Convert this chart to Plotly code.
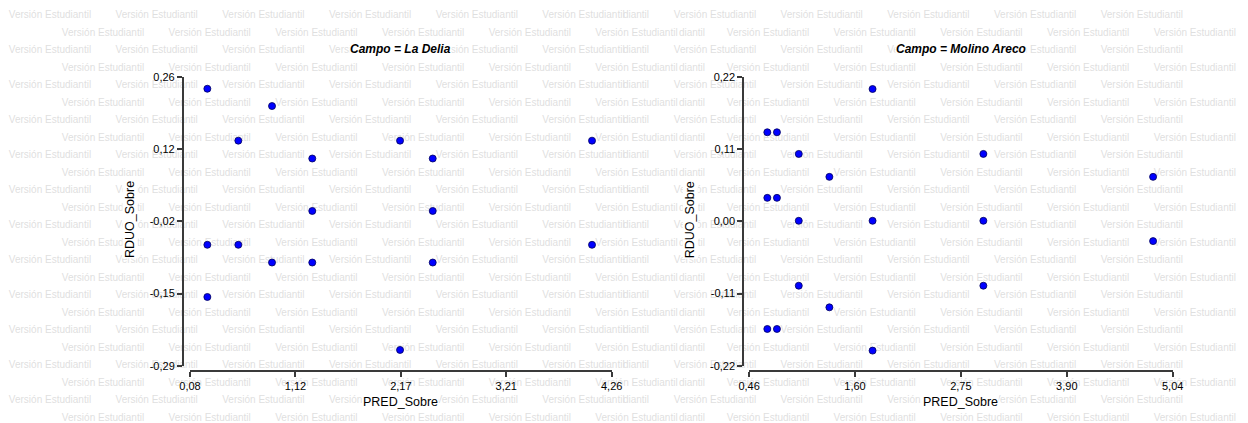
import plotly.graph_objects as go

W, H = 1248, 423
OFF = 8  # page body offset of the figure inside the browser window

# ---------------- data ----------------
ld_pred = [0.252, 0.893, 0.559, 2.162, 4.065, 1.292, 2.486, 1.292, 2.486,
           0.252, 0.559, 4.065, 0.893, 1.292, 2.486, 0.252, 2.162]
ld_rduo = [0.238, 0.205, 0.139, 0.139, 0.139, 0.105, 0.105, 0.005, 0.005,
           -0.0595, -0.0595, -0.0595, -0.0933, -0.0933, -0.0933, -0.159, -0.26]

ma_pred = [1.795, 0.657, 0.761, 0.997, 2.993, 1.328, 4.828, 0.657, 0.761,
           0.997, 1.795, 2.993, 4.828, 0.997, 2.993, 1.328, 0.657, 0.761, 1.795]
ma_rduo = [0.202, 0.136, 0.136, 0.103, 0.103, 0.068, 0.068, 0.036, 0.036,
           0.001, 0.001, 0.001, -0.030, -0.098, -0.098, -0.131, -0.164, -0.164, -0.197]

ld_xticks = [0.08, 1.125, 2.17, 3.215, 4.26]
ld_xlabels = ["0,08", "1,12", "2,17", "3,21", "4,26"]
ld_yticks = [-0.29, -0.1525, -0.015, 0.1225, 0.26]
ld_ylabels = ["-0,29", "-0,15", "-0,02", "0,12", "0,26"]

ma_xticks = [0.46, 1.605, 2.75, 3.895, 5.04]
ma_xlabels = ["0,46", "1,60", "2,75", "3,90", "5,04"]
ma_yticks = [-0.22, -0.11, 0.0, 0.11, 0.22]
ma_ylabels = ["-0,22", "-0,11", "0,00", "0,11", "0,22"]

titles = ["Campo = La Delia", "Campo = Molino Areco"]
x_title = "PRED_Sobre"
y_title = "RDUO_Sobre"
watermark = "Versión Estudiantil"
watermark_tail = "diantil"

# ---------------- helpers (window pixels -> paper fraction) ----------------
def px(x):
    return (x - OFF) / W

def py(y):
    return 1 - (y - OFF) / H

FONT = "Liberation Sans, Arial, sans-serif"
AX = "#3a3a3a"

# watermark positions (background pattern), centre of each label
WM_HALF = 40
wm_x, wm_y, wm_t = [], [], []
period = 106.7
for k in range(24):
    yy = 15.5 + 17.5 * k
    s = 10 if k % 2 == 0 else 63
    while s < 600:
        wm_x.append(s + WM_HALF); wm_y.append(yy); wm_t.append(watermark); s += period
    # clipped tail of the right-hand pattern
    wm_x.append(636 if k % 2 == 0 else 692); wm_y.append(yy); wm_t.append(watermark_tail)
    s = 675 if k % 2 == 0 else 728
    while s + 2 * WM_HALF < W + 20:
        wm_x.append(s + WM_HALF); wm_y.append(yy); wm_t.append(watermark); s += period

fig = go.Figure()
fig.add_trace(go.Scatter(
    x=wm_x, y=wm_y, mode="text", text=wm_t,
    textposition="middle center",
    textfont=dict(family=FONT, size=10, color="#dfdfdf"),
    hoverinfo="skip", showlegend=False, xaxis="x", yaxis="y"))

marker = dict(size=7, color="#0000ff", line=dict(color="#00005a", width=0.8))
fig.add_trace(go.Scatter(x=ld_pred, y=ld_rduo, mode="markers", marker=marker,
                         showlegend=False, xaxis="x2", yaxis="y2", cliponaxis=False))
fig.add_trace(go.Scatter(x=ma_pred, y=ma_rduo, mode="markers", marker=marker,
                         showlegend=False, xaxis="x3", yaxis="y3", cliponaxis=False))

def axis_common():
    return dict(showline=True, linecolor=AX, linewidth=1.5, ticks="outside",
                ticklen=5, tickwidth=1.5, tickcolor=AX, showgrid=False,
                zeroline=False, tickfont=dict(family=FONT, size=11, color="#000"),
                fixedrange=True, automargin=False)

ytop, ybot = 77.2, 365.7

fig.update_layout(
    width=W, height=H, margin=dict(l=0, r=0, t=0, b=0, pad=0, autoexpand=False),
    paper_bgcolor="white", plot_bgcolor="rgba(0,0,0,0)",
    showlegend=False,
    xaxis=dict(domain=[0, 1], range=[OFF, W + OFF], visible=False, fixedrange=True),
    yaxis=dict(domain=[0, 1], range=[H + OFF, OFF], visible=False, fixedrange=True),
    xaxis2=dict(domain=[px(190), px(611.7)], range=[ld_xticks[0], ld_xticks[-1]],
                anchor="free", position=py(371), tickvals=ld_xticks,
                ticktext=ld_xlabels, **axis_common()),
    yaxis2=dict(domain=[py(ybot), py(ytop)], range=[ld_yticks[0], ld_yticks[-1]],
                anchor="free", position=px(182.7), tickvals=ld_yticks,
                ticktext=ld_ylabels, **axis_common()),
    xaxis3=dict(domain=[px(749.1), px(1172.7)], range=[ma_xticks[0], ma_xticks[-1]],
                anchor="free", position=py(371), tickvals=ma_xticks,
                ticktext=ma_xlabels, **axis_common()),
    yaxis3=dict(domain=[py(ybot), py(ytop)], range=[ma_yticks[0], ma_yticks[-1]],
                anchor="free", position=px(743), tickvals=ma_yticks,
                ticktext=ma_ylabels, **axis_common()),
)

ann = []
for t, cx in zip(titles, [400.9, 961.0]):
    ann.append(dict(text="<b><i>%s</i></b>" % t, x=px(cx), y=py(49.5),
                    xref="paper", yref="paper", showarrow=False,
                    xanchor="center", yanchor="middle",
                    font=dict(family=FONT, size=12, color="#000"),
                    bgcolor="white", borderpad=0))
    ann.append(dict(text=x_title, x=px(cx), y=py(402), xref="paper", yref="paper",
                    showarrow=False, xanchor="center", yanchor="middle",
                    font=dict(family=FONT, size=12.5, color="#000"),
                    bgcolor="white", borderpad=0))
for cx in [130.0, 690.3]:
    ann.append(dict(text=y_title, x=px(cx), y=py(220), xref="paper", yref="paper",
                    showarrow=False, textangle=-90, xanchor="center", yanchor="middle",
                    font=dict(family=FONT, size=12.5, color="#000"),
                    bgcolor="white", borderpad=0))
fig.update_layout(annotations=ann)

fig.write_html("out.html")
